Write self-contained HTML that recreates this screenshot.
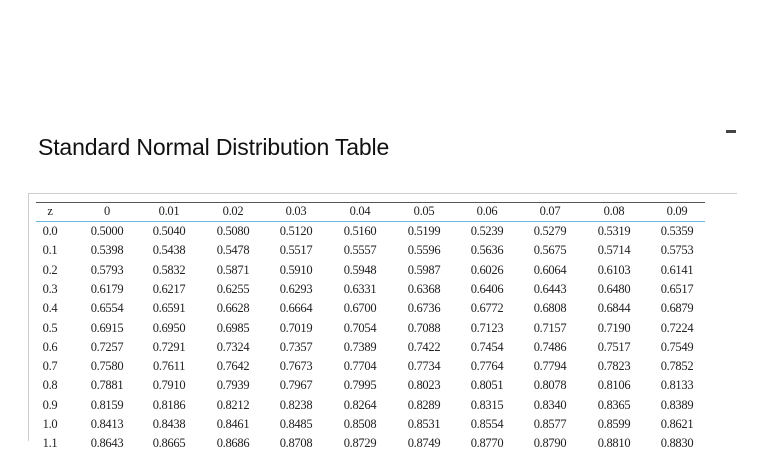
<!DOCTYPE html>
<html><head><style>
body{margin:0;width:784px;height:441px;overflow:hidden;background:#fff;position:relative}
.t{position:absolute;left:38px;top:134px;font:23px "Liberation Sans",sans-serif;color:#111;letter-spacing:-0.15px}
.c{position:absolute;font:12.5px "Liberation Serif",serif;color:#222;transform:translateX(-50%);white-space:nowrap;letter-spacing:-0.3px}
</style></head><body>
<div class="t">Standard Normal Distribution Table</div>
<div style="position:absolute;left:726px;top:130px;width:10px;height:3px;background:#444"></div>
<div style="position:absolute;left:28px;top:193px;width:709px;height:1px;background:#ccc"></div>
<div style="position:absolute;left:28px;top:193px;width:1px;height:248px;background:#ccc"></div>
<div style="position:absolute;left:36px;top:202px;width:669px;height:1px;background:#555"></div>
<div style="position:absolute;left:36px;top:221px;width:669px;height:1px;background:#6bb8e0"></div>
<div id="g"></div>
<script>
var xs=[50,107,169,233,296,360,424,487,550,614,677];
var hdr=["z","0","0.01","0.02","0.03","0.04","0.05","0.06","0.07","0.08","0.09"];
var rows=[
["0.0","0.5000","0.5040","0.5080","0.5120","0.5160","0.5199","0.5239","0.5279","0.5319","0.5359"],
["0.1","0.5398","0.5438","0.5478","0.5517","0.5557","0.5596","0.5636","0.5675","0.5714","0.5753"],
["0.2","0.5793","0.5832","0.5871","0.5910","0.5948","0.5987","0.6026","0.6064","0.6103","0.6141"],
["0.3","0.6179","0.6217","0.6255","0.6293","0.6331","0.6368","0.6406","0.6443","0.6480","0.6517"],
["0.4","0.6554","0.6591","0.6628","0.6664","0.6700","0.6736","0.6772","0.6808","0.6844","0.6879"],
["0.5","0.6915","0.6950","0.6985","0.7019","0.7054","0.7088","0.7123","0.7157","0.7190","0.7224"],
["0.6","0.7257","0.7291","0.7324","0.7357","0.7389","0.7422","0.7454","0.7486","0.7517","0.7549"],
["0.7","0.7580","0.7611","0.7642","0.7673","0.7704","0.7734","0.7764","0.7794","0.7823","0.7852"],
["0.8","0.7881","0.7910","0.7939","0.7967","0.7995","0.8023","0.8051","0.8078","0.8106","0.8133"],
["0.9","0.8159","0.8186","0.8212","0.8238","0.8264","0.8289","0.8315","0.8340","0.8365","0.8389"],
["1.0","0.8413","0.8438","0.8461","0.8485","0.8508","0.8531","0.8554","0.8577","0.8599","0.8621"],
["1.1","0.8643","0.8665","0.8686","0.8708","0.8729","0.8749","0.8770","0.8790","0.8810","0.8830"]];
var h="";
function add(y,arr){for(var i=0;i<11;i++)h+='<div class="c" style="left:'+xs[i]+'px;top:'+y+'px">'+arr[i]+'</div>';}
add(204,hdr);
for(var r=0;r<rows.length;r++)add(224+r*19.3,rows[r]);
document.getElementById("g").innerHTML=h;
</script>
</body></html>
